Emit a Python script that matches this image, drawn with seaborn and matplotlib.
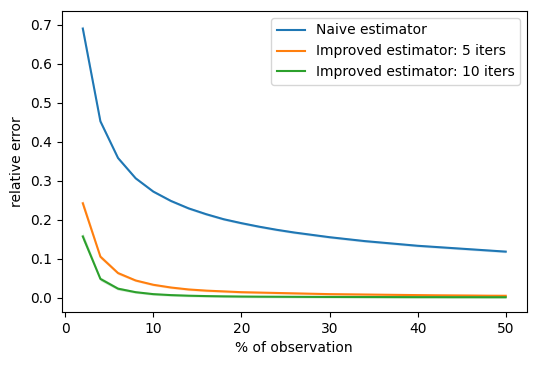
import numpy as np
import pandas as pd
import matplotlib
matplotlib.use("Agg")
import matplotlib.pyplot as plt
import seaborn as sns

# ==============================
# Dados
# ==============================
pct_obs = list(range(2, 52, 2))

naive = [0.690, 0.452, 0.358, 0.306, 0.272, 0.248, 0.229, 0.214, 0.201, 0.191,
         0.182, 0.174, 0.167, 0.161, 0.155, 0.150, 0.145, 0.141, 0.137, 0.133,
         0.130, 0.127, 0.124, 0.121, 0.118]

improved_5 = [0.242, 0.105, 0.063, 0.044, 0.033, 0.026, 0.021, 0.018, 0.016, 0.014,
              0.013, 0.012, 0.011, 0.010, 0.009, 0.0085, 0.008, 0.0075, 0.007, 0.0065,
              0.006, 0.0057, 0.0054, 0.005, 0.0048]

improved_10 = [0.157, 0.048, 0.023, 0.014, 0.009, 0.0065, 0.005, 0.004, 0.0033, 0.0028,
               0.0025, 0.0023, 0.0021, 0.0019, 0.0018, 0.0017, 0.0016, 0.0015, 0.0014, 0.0013,
               0.0013, 0.0012, 0.0012, 0.0011, 0.0011]

# meia largura da faixa de confiança
band = [0.010, 0.005, 0.004, 0.003, 0.003, 0.003, 0.003, 0.003, 0.003, 0.003,
        0.003, 0.003, 0.003, 0.003, 0.003, 0.003, 0.003, 0.003, 0.003, 0.003,
        0.003, 0.003, 0.003, 0.003, 0.003]

labels = ["Naive estimator", "Improved estimator: 5 iters", "Improved estimator: 10 iters"]
series = [naive, improved_5, improved_10]

df = pd.concat([
    pd.DataFrame({"pct": pct_obs, "err": s, "method": lab})
    for s, lab in zip(series, labels)
])

# ==============================
# Gráfico
# ==============================
fig, ax = plt.subplots(figsize=(5.36, 3.65), dpi=100)
fig.subplots_adjust(left=0.115, right=0.983, top=0.970, bottom=0.145)

palette = ["#1f77b4", "#ff7f0e", "#2ca02c"]
sns.lineplot(data=df, x="pct", y="err", hue="method", palette=palette,
             errorbar=None, ax=ax)

for s, c in zip(series, palette):
    s = np.array(s)
    ax.fill_between(pct_obs, s - np.array(band), s + np.array(band),
                    color=c, alpha=0.2, linewidth=0)

ax.set_xlabel("% of observation")
ax.set_ylabel("relative error")
ax.legend(loc="upper right")

plt.savefig("out.png")
